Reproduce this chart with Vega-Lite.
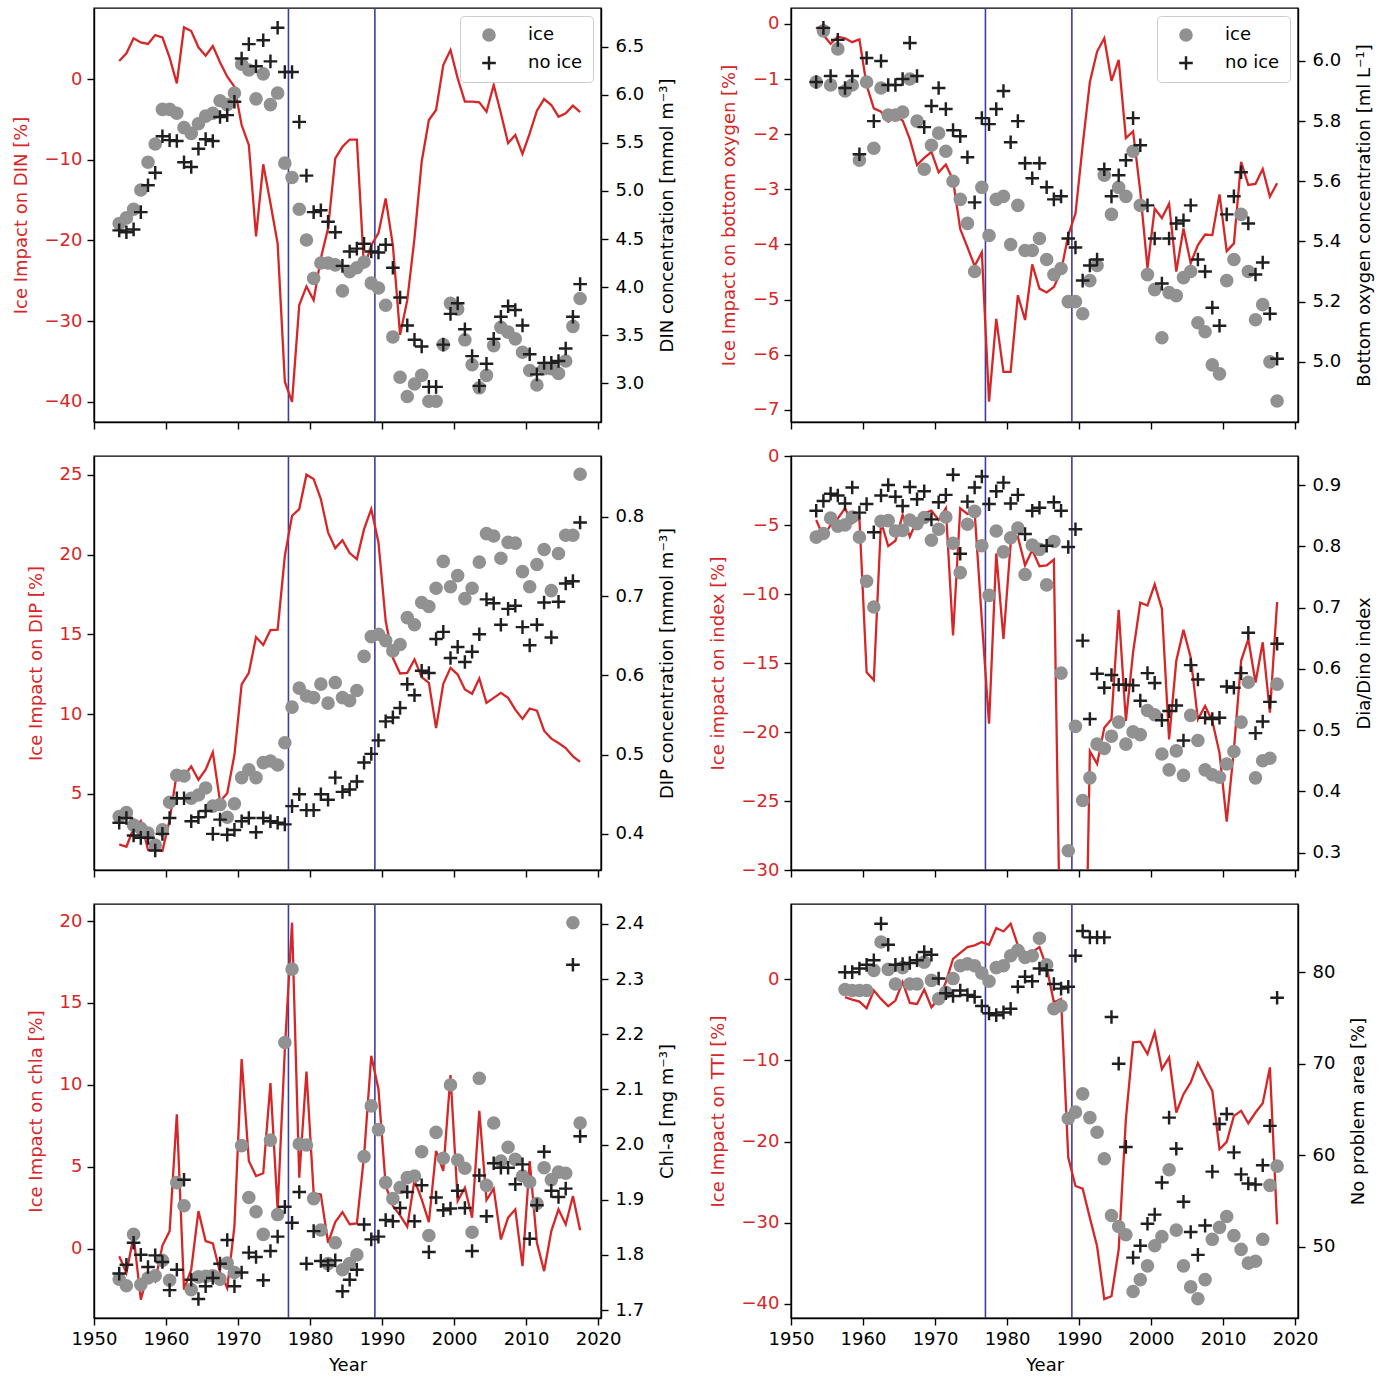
{
  "$schema": "https://vega.github.io/schema/vega-lite/v6.json",
  "background": "white",
  "padding": {"left": 11, "top": 6, "right": 5, "bottom": 5},
  "config": {
    "font": "DejaVu Sans",
    "view": {"stroke": "black", "strokeWidth": 1.4},
    "axis": {"grid": false, "labelFont": "DejaVu Sans", "titleFont": "DejaVu Sans", "labelFontSize": 18, "titleFontSize": 18, "titleFontWeight": "normal", "labelColor": "black", "titleColor": "black", "tickColor": "black", "domainColor": "black", "tickSize": 7, "tickWidth": 1.4, "domainWidth": 1.4, "labelPadding": 5, "titlePadding": 8, "labelFlush": false, "labelOverlap": false, "labelBound": false}
  },
  "datasets": {
    "p1": [
      {"year":1953.5,"impact":2.23,"ice":4.66,"no_ice":4.59},{"year":1954.5,"impact":3.18,"ice":4.72,"no_ice":4.57},{"year":1955.5,"impact":5.04,"ice":4.81,"no_ice":4.60},{"year":1956.5,"impact":4.54,"ice":5.01,"no_ice":4.78},{"year":1957.5,"impact":4.34,"ice":5.30,"no_ice":5.06},{"year":1958.5,"impact":5.45,"ice":5.49,"no_ice":5.19},{"year":1959.5,"impact":5.16,"ice":5.85,"no_ice":5.57},{"year":1960.5,"impact":2.64,"ice":5.85,"no_ice":5.53},{"year":1961.5,"impact":-0.54,"ice":5.81,"no_ice":5.52},{"year":1962.5,"impact":6.4,"ice":5.66,"no_ice":5.30},
      {"year":1963.5,"impact":5.95,"ice":5.60,"no_ice":5.25},{"year":1964.5,"impact":3.93,"ice":5.70,"no_ice":5.44},{"year":1965.5,"impact":2.89,"ice":5.78,"no_ice":5.54},{"year":1966.5,"impact":4.09,"ice":5.81,"no_ice":5.52},{"year":1967.5,"impact":2.07,"ice":5.94,"no_ice":5.77},{"year":1968.5,"impact":0.29,"ice":5.90,"no_ice":5.79},{"year":1969.5,"impact":-0.95,"ice":6.02,"no_ice":5.93},{"year":1970.5,"impact":-5.7,"ice":6.32,"no_ice":6.38},{"year":1971.5,"impact":-8.18,"ice":6.26,"no_ice":6.53},{"year":1972.5,"impact":-19.5,"ice":5.96,"no_ice":6.30},
      {"year":1973.5,"impact":-10.57,"ice":6.22,"no_ice":6.57},{"year":1974.5,"impact":-15.4,"ice":5.90,"no_ice":6.35},{"year":1975.5,"impact":-20.4,"ice":6.02,"no_ice":6.70},{"year":1976.5,"impact":-37.5,"ice":5.29,"no_ice":6.24},{"year":1977.5,"impact":-40.0,"ice":5.14,"no_ice":6.24},{"year":1978.5,"impact":-28.0,"ice":4.81,"no_ice":5.72},{"year":1979.5,"impact":-25.7,"ice":4.49,"no_ice":5.16},{"year":1980.5,"impact":-27.4,"ice":4.09,"no_ice":4.78},{"year":1981.5,"impact":-22.2,"ice":4.25,"no_ice":4.80},{"year":1982.5,"impact":-18.5,"ice":4.25,"no_ice":4.68},
      {"year":1983.5,"impact":-9.83,"ice":4.23,"no_ice":4.57},{"year":1984.5,"impact":-8.4,"ice":3.96,"no_ice":4.22},{"year":1985.5,"impact":-7.5,"ice":4.16,"no_ice":4.37},{"year":1986.5,"impact":-7.5,"ice":4.20,"no_ice":4.40},{"year":1987.5,"impact":-23.45,"ice":4.26,"no_ice":4.45},{"year":1988.5,"impact":-20.6,"ice":4.04,"no_ice":4.37},{"year":1989.5,"impact":-19.1,"ice":3.99,"no_ice":4.36},{"year":1990.5,"impact":-14.8,"ice":3.81,"no_ice":4.44},{"year":1991.5,"impact":-20.6,"ice":3.48,"no_ice":4.20},{"year":1992.5,"impact":-31.7,"ice":3.06,"no_ice":3.89},
      {"year":1993.5,"impact":-27.4,"ice":2.86,"no_ice":3.60},{"year":1994.5,"impact":-19.74,"ice":2.99,"no_ice":3.45},{"year":1995.5,"impact":-10.25,"ice":3.08,"no_ice":3.38},{"year":1996.5,"impact":-5.08,"ice":2.81,"no_ice":2.96},{"year":1997.5,"impact":-3.84,"ice":2.81,"no_ice":2.96},{"year":1998.5,"impact":1.73,"ice":3.40,"no_ice":3.40},{"year":1999.5,"impact":3.59,"ice":3.83,"no_ice":3.72},{"year":2000.5,"impact":0.08,"ice":3.77,"no_ice":3.83},{"year":2001.5,"impact":-2.81,"ice":3.45,"no_ice":3.56},{"year":2002.5,"impact":-2.81,"ice":3.19,"no_ice":3.28},
      {"year":2003.5,"impact":-2.89,"ice":2.95,"no_ice":2.97},{"year":2004.5,"impact":-4.05,"ice":3.08,"no_ice":3.20},{"year":2005.5,"impact":-0.74,"ice":3.39,"no_ice":3.46},{"year":2006.5,"impact":-4.25,"ice":3.58,"no_ice":3.69},{"year":2007.5,"impact":-7.95,"ice":3.53,"no_ice":3.80},{"year":2008.5,"impact":-6.94,"ice":3.46,"no_ice":3.76},{"year":2009.5,"impact":-9.29,"ice":3.32,"no_ice":3.60},{"year":2010.5,"impact":-6.73,"ice":3.13,"no_ice":3.30},{"year":2011.5,"impact":-3.93,"ice":2.98,"no_ice":3.09},{"year":2012.5,"impact":-2.48,"ice":3.15,"no_ice":3.21},
      {"year":2013.5,"impact":-3.22,"ice":3.15,"no_ice":3.21},{"year":2014.5,"impact":-4.67,"ice":3.10,"no_ice":3.23},{"year":2015.5,"impact":-4.25,"ice":3.23,"no_ice":3.36},{"year":2016.5,"impact":-3.3,"ice":3.59,"no_ice":3.69},{"year":2017.5,"impact":-4.1,"ice":3.88,"no_ice":4.03}
    ],
    "p2": [
      {"year":1953.5,"impact":-0.06,"ice":5.93,"no_ice":5.93},{"year":1954.5,"impact":-0.2,"ice":6.10,"no_ice":6.11},{"year":1955.5,"impact":-0.36,"ice":5.92,"no_ice":5.95},{"year":1956.5,"impact":-0.23,"ice":6.04,"no_ice":6.07},{"year":1957.5,"impact":-0.26,"ice":5.90,"no_ice":5.91},{"year":1958.5,"impact":-0.33,"ice":5.92,"no_ice":5.95},{"year":1959.5,"impact":-0.28,"ice":5.67,"no_ice":5.69},{"year":1960.5,"impact":-1.11,"ice":5.93,"no_ice":6.01},{"year":1961.5,"impact":-1.53,"ice":5.71,"no_ice":5.80},{"year":1962.5,"impact":-1.59,"ice":5.91,"no_ice":6.00},
      {"year":1963.5,"impact":-1.77,"ice":5.82,"no_ice":5.92},{"year":1964.5,"impact":-1.68,"ice":5.82,"no_ice":5.92},{"year":1965.5,"impact":-1.75,"ice":5.83,"no_ice":5.94},{"year":1966.5,"impact":-2.09,"ice":5.94,"no_ice":6.06},{"year":1967.5,"impact":-2.56,"ice":5.80,"no_ice":5.95},{"year":1968.5,"impact":-2.43,"ice":5.64,"no_ice":5.78},{"year":1969.5,"impact":-2.32,"ice":5.72,"no_ice":5.85},{"year":1970.5,"impact":-2.69,"ice":5.76,"no_ice":5.91},{"year":1971.5,"impact":-2.55,"ice":5.70,"no_ice":5.84},{"year":1972.5,"impact":-2.83,"ice":5.60,"no_ice":5.77},
      {"year":1973.5,"impact":-3.72,"ice":5.54,"no_ice":5.75},{"year":1974.5,"impact":-4.05,"ice":5.46,"no_ice":5.68},{"year":1975.5,"impact":-4.39,"ice":5.30,"no_ice":5.53},{"year":1976.5,"impact":-4.14,"ice":5.58,"no_ice":5.81},{"year":1977.5,"impact":-6.85,"ice":5.42,"no_ice":5.79},{"year":1978.5,"impact":-5.35,"ice":5.54,"no_ice":5.84},{"year":1979.5,"impact":-6.31,"ice":5.55,"no_ice":5.90},{"year":1980.5,"impact":-6.31,"ice":5.39,"no_ice":5.73},{"year":1981.5,"impact":-4.92,"ice":5.52,"no_ice":5.80},{"year":1982.5,"impact":-5.37,"ice":5.37,"no_ice":5.66},
      {"year":1983.5,"impact":-4.36,"ice":5.37,"no_ice":5.61},{"year":1984.5,"impact":-4.8,"ice":5.41,"no_ice":5.66},{"year":1985.5,"impact":-4.87,"ice":5.34,"no_ice":5.58},{"year":1986.5,"impact":-4.77,"ice":5.29,"no_ice":5.54},{"year":1987.5,"impact":-4.49,"ice":5.31,"no_ice":5.55},{"year":1988.5,"impact":-3.83,"ice":5.20,"no_ice":5.41},{"year":1989.5,"impact":-3.44,"ice":5.20,"no_ice":5.38},{"year":1990.5,"impact":-2.2,"ice":5.16,"no_ice":5.27},{"year":1991.5,"impact":-1.05,"ice":5.27,"no_ice":5.32},{"year":1992.5,"impact":-0.5,"ice":5.32,"no_ice":5.34},
      {"year":1993.5,"impact":-0.26,"ice":5.62,"no_ice":5.64},{"year":1994.5,"impact":-1.03,"ice":5.49,"no_ice":5.55},{"year":1995.5,"impact":-0.65,"ice":5.58,"no_ice":5.62},{"year":1996.5,"impact":-2.07,"ice":5.55,"no_ice":5.67},{"year":1997.5,"impact":-1.95,"ice":5.70,"no_ice":5.81},{"year":1998.5,"impact":-3.04,"ice":5.52,"no_ice":5.72},{"year":1999.5,"impact":-4.43,"ice":5.29,"no_ice":5.52},{"year":2000.5,"impact":-3.35,"ice":5.24,"no_ice":5.41},{"year":2001.5,"impact":-3.52,"ice":5.08,"no_ice":5.26},{"year":2002.5,"impact":-3.26,"ice":5.23,"no_ice":5.41},
      {"year":2003.5,"impact":-4.49,"ice":5.22,"no_ice":5.46},{"year":2004.5,"impact":-3.71,"ice":5.28,"no_ice":5.47},{"year":2005.5,"impact":-4.34,"ice":5.30,"no_ice":5.52},{"year":2006.5,"impact":-4.01,"ice":5.13,"no_ice":5.34},{"year":2007.5,"impact":-3.82,"ice":5.10,"no_ice":5.30},{"year":2008.5,"impact":-3.83,"ice":4.99,"no_ice":5.18},{"year":2009.5,"impact":-3.09,"ice":4.96,"no_ice":5.12},{"year":2010.5,"impact":-4.12,"ice":5.27,"no_ice":5.49},{"year":2011.5,"impact":-3.98,"ice":5.34,"no_ice":5.55},{"year":2012.5,"impact":-2.5,"ice":5.49,"no_ice":5.63},
      {"year":2013.5,"impact":-2.92,"ice":5.30,"no_ice":5.46},{"year":2014.5,"impact":-2.90,"ice":5.14,"no_ice":5.29},{"year":2015.5,"impact":-2.63,"ice":5.19,"no_ice":5.33},{"year":2016.5,"impact":-3.13,"ice":5.00,"no_ice":5.16},{"year":2017.5,"impact":-2.89,"ice":4.87,"no_ice":5.01}
    ],
    "p3": [
      {"year":1953.5,"impact":1.83,"ice":0.422,"no_ice":0.414},{"year":1954.5,"impact":1.68,"ice":0.427,"no_ice":0.42},{"year":1955.5,"impact":2.84,"ice":0.411,"no_ice":0.398},{"year":1956.5,"impact":3.30,"ice":0.407,"no_ice":0.395},{"year":1957.5,"impact":1.48,"ice":0.401,"no_ice":0.395},{"year":1958.5,"impact":1.48,"ice":0.386,"no_ice":0.379},{"year":1959.5,"impact":1.42,"ice":0.405,"no_ice":0.40},{"year":1960.5,"impact":3.36,"ice":0.44,"no_ice":0.42},{"year":1961.5,"impact":6.30,"ice":0.474,"no_ice":0.445},{"year":1962.5,"impact":6.09,"ice":0.473,"no_ice":0.445},
      {"year":1963.5,"impact":6.72,"ice":0.445,"no_ice":0.416},{"year":1964.5,"impact":5.88,"ice":0.449,"no_ice":0.421},{"year":1965.5,"impact":6.51,"ice":0.458,"no_ice":0.429},{"year":1966.5,"impact":7.60,"ice":0.435,"no_ice":0.40},{"year":1967.5,"impact":4.52,"ice":0.437,"no_ice":0.418},{"year":1968.5,"impact":5.04,"ice":0.421,"no_ice":0.399},{"year":1969.5,"impact":7.45,"ice":0.438,"no_ice":0.405},{"year":1970.5,"impact":11.86,"ice":0.471,"no_ice":0.416},{"year":1971.5,"impact":12.59,"ice":0.481,"no_ice":0.42},{"year":1972.5,"impact":14.83,"ice":0.471,"no_ice":0.402},
      {"year":1973.5,"impact":14.33,"ice":0.49,"no_ice":0.42},{"year":1974.5,"impact":15.27,"ice":0.492,"no_ice":0.416},{"year":1975.5,"impact":15.3,"ice":0.487,"no_ice":0.414},{"year":1976.5,"impact":19.93,"ice":0.515,"no_ice":0.412},{"year":1977.5,"impact":22.44,"ice":0.56,"no_ice":0.435},{"year":1978.5,"impact":22.86,"ice":0.584,"no_ice":0.45},{"year":1979.5,"impact":25.02,"ice":0.574,"no_ice":0.43},{"year":1980.5,"impact":24.75,"ice":0.572,"no_ice":0.43},{"year":1981.5,"impact":23.49,"ice":0.589,"no_ice":0.45},{"year":1982.5,"impact":21.4,"ice":0.565,"no_ice":0.443},
      {"year":1983.5,"impact":20.41,"ice":0.591,"no_ice":0.471},{"year":1984.5,"impact":20.91,"ice":0.572,"no_ice":0.453},{"year":1985.5,"impact":20.1,"ice":0.568,"no_ice":0.456},{"year":1986.5,"impact":19.72,"ice":0.581,"no_ice":0.466},{"year":1987.5,"impact":21.6,"ice":0.624,"no_ice":0.49},{"year":1988.5,"impact":22.86,"ice":0.649,"no_ice":0.501},{"year":1989.5,"impact":20.77,"ice":0.652,"no_ice":0.518},{"year":1990.5,"impact":15.84,"ice":0.644,"no_ice":0.542},{"year":1991.5,"impact":13.53,"ice":0.631,"no_ice":0.547},{"year":1992.5,"impact":12.55,"ice":0.639,"no_ice":0.559},
      {"year":1993.5,"impact":12.59,"ice":0.673,"no_ice":0.589},{"year":1994.5,"impact":13.43,"ice":0.664,"no_ice":0.575},{"year":1995.5,"impact":12.32,"ice":0.692,"no_ice":0.606},{"year":1996.5,"impact":11.96,"ice":0.687,"no_ice":0.603},{"year":1997.5,"impact":9.13,"ice":0.710,"no_ice":0.646},{"year":1998.5,"impact":11.9,"ice":0.744,"no_ice":0.655},{"year":1999.5,"impact":12.9,"ice":0.712,"no_ice":0.622},{"year":2000.5,"impact":12.48,"ice":0.726,"no_ice":0.636},{"year":2001.5,"impact":11.54,"ice":0.697,"no_ice":0.617},{"year":2002.5,"impact":11.27,"ice":0.710,"no_ice":0.63},
      {"year":2003.5,"impact":12.23,"ice":0.743,"no_ice":0.652},{"year":2004.5,"impact":10.7,"ice":0.779,"no_ice":0.696},{"year":2005.5,"impact":11.02,"ice":0.776,"no_ice":0.691},{"year":2006.5,"impact":11.33,"ice":0.748,"no_ice":0.664},{"year":2007.5,"impact":11.02,"ice":0.768,"no_ice":0.684},{"year":2008.5,"impact":10.28,"ice":0.767,"no_ice":0.688},{"year":2009.5,"impact":9.7,"ice":0.731,"no_ice":0.661},{"year":2010.5,"impact":10.35,"ice":0.712,"no_ice":0.638},{"year":2011.5,"impact":10.22,"ice":0.740,"no_ice":0.664},{"year":2012.5,"impact":8.96,"ice":0.759,"no_ice":0.692},
      {"year":2013.5,"impact":8.46,"ice":0.707,"no_ice":0.648},{"year":2014.5,"impact":8.19,"ice":0.754,"no_ice":0.693},{"year":2015.5,"impact":7.87,"ice":0.777,"no_ice":0.716},{"year":2016.5,"impact":7.35,"ice":0.777,"no_ice":0.719},{"year":2017.5,"impact":7.0,"ice":0.854,"no_ice":0.793}
    ],
    "p4": [
      {"year":1953.5,"impact":-4.64,"ice":0.815,"no_ice":0.858},{"year":1954.5,"impact":-5.85,"ice":0.821,"no_ice":0.874},{"year":1955.5,"impact":-5.0,"ice":0.846,"no_ice":0.886},{"year":1956.5,"impact":-4.52,"ice":0.833,"no_ice":0.883},{"year":1957.5,"impact":-3.79,"ice":0.835,"no_ice":0.87},{"year":1958.5,"impact":-4.88,"ice":0.848,"no_ice":0.896},{"year":1959.5,"impact":-4.52,"ice":0.815,"no_ice":0.855},{"year":1960.5,"impact":-15.68,"ice":0.743,"no_ice":0.869},{"year":1961.5,"impact":-16.24,"ice":0.701,"no_ice":0.823},{"year":1962.5,"impact":-4.76,"ice":0.841,"no_ice":0.883},
      {"year":1963.5,"impact":-6.53,"ice":0.842,"no_ice":0.90},{"year":1964.5,"impact":-6.14,"ice":0.825,"no_ice":0.881},{"year":1965.5,"impact":-4.27,"ice":0.826,"no_ice":0.866},{"year":1966.5,"impact":-5.85,"ice":0.843,"no_ice":0.897},{"year":1967.5,"impact":-4.64,"ice":0.837,"no_ice":0.877},{"year":1968.5,"impact":-4.15,"ice":0.847,"no_ice":0.89},{"year":1969.5,"impact":-3.96,"ice":0.81,"no_ice":0.844},{"year":1970.5,"impact":-4.64,"ice":0.828,"no_ice":0.872},{"year":1971.5,"impact":-3.79,"ice":0.848,"no_ice":0.884},{"year":1972.5,"impact":-13.01,"ice":0.805,"no_ice":0.917},
      {"year":1973.5,"impact":-3.79,"ice":0.757,"no_ice":0.788},{"year":1974.5,"impact":-4.2,"ice":0.836,"no_ice":0.873},{"year":1975.5,"impact":-4.03,"ice":0.857,"no_ice":0.896},{"year":1976.5,"impact":-11.92,"ice":0.801,"no_ice":0.914},{"year":1977.5,"impact":-19.4,"ice":0.72,"no_ice":0.869},{"year":1978.5,"impact":-7.06,"ice":0.825,"no_ice":0.89},{"year":1979.5,"impact":-13.26,"ice":0.791,"no_ice":0.904},{"year":1980.5,"impact":-6.34,"ice":0.814,"no_ice":0.87},{"year":1981.5,"impact":-5.85,"ice":0.83,"no_ice":0.884},{"year":1982.5,"impact":-7.92,"ice":0.754,"no_ice":0.82},
      {"year":1983.5,"impact":-6.82,"ice":0.802,"no_ice":0.858},{"year":1984.5,"impact":-7.99,"ice":0.795,"no_ice":0.863},{"year":1985.5,"impact":-7.92,"ice":0.737,"no_ice":0.801},{"year":1986.5,"impact":-7.5,"ice":0.808,"no_ice":0.872},{"year":1987.5,"impact":-40,"ice":0.593,"no_ice":0.858},{"year":1988.5,"impact":-45,"ice":0.303,"no_ice":0.799},{"year":1989.5,"impact":-48,"ice":0.506,"no_ice":0.828},{"year":1990.5,"impact":-50,"ice":0.385,"no_ice":0.646},{"year":1991.5,"impact":-21.39,"ice":0.422,"no_ice":0.518},{"year":1992.5,"impact":-22.31,"ice":0.477,"no_ice":0.592},
      {"year":1993.5,"impact":-19.69,"ice":0.47,"no_ice":0.569},{"year":1994.5,"impact":-19.08,"ice":0.49,"no_ice":0.59},{"year":1995.5,"impact":-11.14,"ice":0.513,"no_ice":0.574},{"year":1996.5,"impact":-19.2,"ice":0.477,"no_ice":0.574},{"year":1997.5,"impact":-14.23,"ice":0.497,"no_ice":0.573},{"year":1998.5,"impact":-10.63,"ice":0.4925,"no_ice":0.548},{"year":1999.5,"impact":-10.83,"ice":0.532,"no_ice":0.593},{"year":2000.5,"impact":-9.30,"ice":0.525,"no_ice":0.577},{"year":2001.5,"impact":-11.07,"ice":0.461,"no_ice":0.516},{"year":2002.5,"impact":-20.54,"ice":0.435,"no_ice":0.531},
      {"year":2003.5,"impact":-14.84,"ice":0.466,"no_ice":0.54},{"year":2004.5,"impact":-12.6,"ice":0.426,"no_ice":0.483},{"year":2005.5,"impact":-14.59,"ice":0.524,"no_ice":0.606},{"year":2006.5,"impact":-19.08,"ice":0.483,"no_ice":0.5825},{"year":2007.5,"impact":-18.11,"ice":0.435,"no_ice":0.52},{"year":2008.5,"impact":-19.2,"ice":0.427,"no_ice":0.518},{"year":2009.5,"impact":-21.51,"ice":0.423,"no_ice":0.52},{"year":2010.5,"impact":-26.49,"ice":0.4445,"no_ice":0.571},{"year":2011.5,"impact":-21.27,"ice":0.465,"no_ice":0.569},{"year":2012.5,"impact":-14.84,"ice":0.513,"no_ice":0.593},
      {"year":2013.5,"impact":-13.26,"ice":0.578,"no_ice":0.659},{"year":2014.5,"impact":-16.41,"ice":0.422,"no_ice":0.495},{"year":2015.5,"impact":-13.5,"ice":0.45,"no_ice":0.514},{"year":2016.5,"impact":-18.6,"ice":0.454,"no_ice":0.546},{"year":2017.5,"impact":-10.58,"ice":0.575,"no_ice":0.641}
    ],
    "p5": [
      {"year":1953.5,"impact":-0.45,"ice":1.756,"no_ice":1.766},{"year":1954.5,"impact":-1.47,"ice":1.744,"no_ice":1.782},{"year":1955.5,"impact":0.78,"ice":1.837,"no_ice":1.822},{"year":1956.5,"impact":-3.1,"ice":1.746,"no_ice":1.80},{"year":1957.5,"impact":-1.47,"ice":1.758,"no_ice":1.778},{"year":1958.5,"impact":-1.98,"ice":1.762,"no_ice":1.799},{"year":1959.5,"impact":0.2,"ice":1.79,"no_ice":1.787},{"year":1960.5,"impact":1.08,"ice":1.754,"no_ice":1.736},{"year":1961.5,"impact":8.21,"ice":1.931,"no_ice":1.773},{"year":1962.5,"impact":-2.49,"ice":1.889,"no_ice":1.936},
      {"year":1963.5,"impact":-1.26,"ice":1.737,"no_ice":1.755},{"year":1964.5,"impact":2.3,"ice":1.76,"no_ice":1.72},{"year":1965.5,"impact":0.47,"ice":1.761,"no_ice":1.743},{"year":1966.5,"impact":0.33,"ice":1.762,"no_ice":1.758},{"year":1967.5,"impact":-1.43,"ice":1.756,"no_ice":1.784},{"year":1968.5,"impact":-2.39,"ice":1.785,"no_ice":1.827},{"year":1969.5,"impact":1.39,"ice":1.768,"no_ice":1.743},{"year":1970.5,"impact":11.58,"ice":1.998,"no_ice":1.768},{"year":1971.5,"impact":5.36,"ice":1.904,"no_ice":1.804},{"year":1972.5,"impact":4.44,"ice":1.878,"no_ice":1.796},
      {"year":1973.5,"impact":4.61,"ice":1.837,"no_ice":1.754},{"year":1974.5,"impact":10.11,"ice":2.008,"no_ice":1.807},{"year":1975.5,"impact":2.41,"ice":1.873,"no_ice":1.833},{"year":1976.5,"impact":12.19,"ice":2.185,"no_ice":1.887},{"year":1977.5,"impact":19.9,"ice":2.318,"no_ice":1.858},{"year":1978.5,"impact":4.34,"ice":2.001,"no_ice":1.914},{"year":1979.5,"impact":10.81,"ice":1.999,"no_ice":1.784},{"year":1980.5,"impact":3.38,"ice":1.902,"no_ice":1.843},{"year":1981.5,"impact":3.32,"ice":1.845,"no_ice":1.789},{"year":1982.5,"impact":0.37,"ice":1.784,"no_ice":1.781},
      {"year":1983.5,"impact":1.63,"ice":1.822,"no_ice":1.79},{"year":1984.5,"impact":2.24,"ice":1.773,"no_ice":1.734},{"year":1985.5,"impact":1.5,"ice":1.784,"no_ice":1.755},{"year":1986.5,"impact":1.55,"ice":1.80,"no_ice":1.773},{"year":1987.5,"impact":5.67,"ice":1.978,"no_ice":1.855},{"year":1988.5,"impact":11.78,"ice":2.07,"no_ice":1.828},{"year":1989.5,"impact":9.74,"ice":2.027,"no_ice":1.833},{"year":1990.5,"impact":3.87,"ice":1.931,"no_ice":1.863},{"year":1991.5,"impact":2.61,"ice":1.902,"no_ice":1.861},{"year":1992.5,"impact":2.04,"ice":1.922,"no_ice":1.885},
      {"year":1993.5,"impact":1.35,"ice":1.94,"no_ice":1.914},{"year":1994.5,"impact":4.2,"ice":1.943,"no_ice":1.861},{"year":1995.5,"impact":3.02,"ice":1.987,"no_ice":1.926},{"year":1996.5,"impact":1.63,"ice":1.835,"no_ice":1.805},{"year":1997.5,"impact":5.98,"ice":2.022,"no_ice":1.904},{"year":1998.5,"impact":4.75,"ice":1.975,"no_ice":1.881},{"year":1999.5,"impact":10.6,"ice":2.108,"no_ice":1.884},{"year":2000.5,"impact":2.92,"ice":1.972,"no_ice":1.916},{"year":2001.5,"impact":3.73,"ice":1.957,"no_ice":1.885},{"year":2002.5,"impact":1.9,"ice":1.841,"no_ice":1.807},
      {"year":2003.5,"impact":8.42,"ice":2.12,"no_ice":1.944},{"year":2004.5,"impact":2.98,"ice":1.926,"no_ice":1.87},{"year":2005.5,"impact":3.67,"ice":2.039,"no_ice":1.966},{"year":2006.5,"impact":0.57,"ice":1.97,"no_ice":1.958},{"year":2007.5,"impact":1.9,"ice":1.995,"no_ice":1.958},{"year":2008.5,"impact":2.41,"ice":1.973,"no_ice":1.928},{"year":2009.5,"impact":-1.06,"ice":1.943,"no_ice":1.964},{"year":2010.5,"impact":5.36,"ice":1.932,"no_ice":1.829},{"year":2011.5,"impact":0.37,"ice":1.893,"no_ice":1.89},{"year":2012.5,"impact":-1.36,"ice":1.958,"no_ice":1.987},
      {"year":2013.5,"impact":1.08,"ice":1.936,"no_ice":1.916},{"year":2014.5,"impact":2.41,"ice":1.95,"no_ice":1.905},{"year":2015.5,"impact":1.49,"ice":1.948,"no_ice":1.92},{"year":2016.5,"impact":3.22,"ice":2.402,"no_ice":2.326},{"year":2017.5,"impact":1.14,"ice":2.039,"no_ice":2.015}
    ],
    "p6": [
      {"year":1957.5,"impact":-2.22,"ice":78.1,"no_ice":80.0},{"year":1958.5,"impact":-2.51,"ice":78.0,"no_ice":80.0},{"year":1959.5,"impact":-2.76,"ice":78.0,"no_ice":80.4},{"year":1960.5,"impact":-3.58,"ice":78.0,"no_ice":80.8},{"year":1961.5,"impact":-1.4,"ice":80.2,"no_ice":81.3},{"year":1962.5,"impact":-2.43,"ice":83.3,"no_ice":85.3},{"year":1963.5,"impact":-3.33,"ice":80.3,"no_ice":83.0},{"year":1964.5,"impact":-2.63,"ice":78.7,"no_ice":80.8},{"year":1965.5,"impact":-0.37,"ice":80.5,"no_ice":80.9},{"year":1966.5,"impact":-2.92,"ice":78.7,"no_ice":81.0},
      {"year":1967.5,"impact":-3.05,"ice":78.7,"no_ice":81.3},{"year":1968.5,"impact":-1.28,"ice":81.1,"no_ice":82.2},{"year":1969.5,"impact":-3.46,"ice":79.1,"no_ice":81.9},{"year":1970.5,"impact":-2.43,"ice":77.1,"no_ice":79.3},{"year":1971.5,"impact":-0.37,"ice":77.8,"no_ice":77.7},{"year":1972.5,"impact":2.51,"ice":79.3,"no_ice":77.4},{"year":1973.5,"impact":3.25,"ice":80.7,"no_ice":78.0},{"year":1974.5,"impact":3.95,"ice":80.9,"no_ice":77.5},{"year":1975.5,"impact":4.16,"ice":80.7,"no_ice":77.3},{"year":1976.5,"impact":4.57,"ice":79.9,"no_ice":76.3},
      {"year":1977.5,"impact":4.24,"ice":79.0,"no_ice":75.5},{"year":1978.5,"impact":6.3,"ice":80.5,"no_ice":75.3},{"year":1979.5,"impact":5.88,"ice":80.7,"no_ice":75.6},{"year":1980.5,"impact":6.83,"ice":81.8,"no_ice":76.0},{"year":1981.5,"impact":4.16,"ice":82.4,"no_ice":78.4},{"year":1982.5,"impact":3.33,"ice":81.6,"no_ice":79.5},{"year":1983.5,"impact":3.33,"ice":81.8,"no_ice":79.0},{"year":1984.5,"impact":3.95,"ice":83.7,"no_ice":80.4},{"year":1985.5,"impact":1.48,"ice":80.8,"no_ice":80.2},{"year":1986.5,"impact":-2.84,"ice":76.0,"no_ice":78.7},
      {"year":1987.5,"impact":-2.43,"ice":76.3,"no_ice":78.2},{"year":1988.5,"impact":-21.98,"ice":64.0,"no_ice":78.4},{"year":1989.5,"impact":-25.47,"ice":64.7,"no_ice":81.8},{"year":1990.5,"impact":-25.8,"ice":66.7,"no_ice":84.5},{"year":1991.5,"impact":-29.4,"ice":64.1,"no_ice":83.8},{"year":1992.5,"impact":-32.9,"ice":62.5,"no_ice":83.8},{"year":1993.5,"impact":-39.4,"ice":59.6,"no_ice":83.8},{"year":1994.5,"impact":-39.05,"ice":53.4,"no_ice":75.1},{"year":1995.5,"impact":-33.3,"ice":52.2,"no_ice":70.0},{"year":1996.5,"impact":-17.24,"ice":51.3,"no_ice":60.9},
      {"year":1997.5,"impact":-7.78,"ice":45.1,"no_ice":48.8},{"year":1998.5,"impact":-7.7,"ice":46.4,"no_ice":50.1},{"year":1999.5,"impact":-9.22,"ice":47.9,"no_ice":52.5},{"year":2000.5,"impact":-6.54,"ice":50.1,"no_ice":53.5},{"year":2001.5,"impact":-11.07,"ice":51.1,"no_ice":57.0},{"year":2002.5,"impact":-9.63,"ice":58.4,"no_ice":64.1},{"year":2003.5,"impact":-16.42,"ice":51.8,"no_ice":60.7},{"year":2004.5,"impact":-14.16,"ice":47.9,"no_ice":54.9},{"year":2005.5,"impact":-12.72,"ice":45.6,"no_ice":51.6},{"year":2006.5,"impact":-10.33,"ice":44.3,"no_ice":49.1},
      {"year":2007.5,"impact":-12.1,"ice":46.4,"no_ice":52.3},{"year":2008.5,"impact":-13.74,"ice":50.8,"no_ice":58.2},{"year":2009.5,"impact":-20.95,"ice":52.1,"no_ice":63.4},{"year":2010.5,"impact":-20.04,"ice":53.3,"no_ice":64.5},{"year":2011.5,"impact":-16.83,"ice":51.2,"no_ice":60.3},{"year":2012.5,"impact":-16.21,"ice":49.7,"no_ice":57.9},{"year":2013.5,"impact":-17.74,"ice":48.2,"no_ice":56.9},{"year":2014.5,"impact":-16.42,"ice":48.4,"no_ice":56.8},{"year":2015.5,"impact":-15.27,"ice":50.8,"no_ice":58.9},{"year":2016.5,"impact":-10.86,"ice":56.7,"no_ice":63.2},
      {"year":2017.5,"impact":-30.2,"ice":58.8,"no_ice":77.2}
    ],
    "shifts": [{"year": 1977}, {"year": 1989}]
  },
  "columns": 2,
  "spacing": {"row": 34, "column": 190},
  "bounds": "flush",
  "resolve": {"scale": {"color": "independent", "shape": "independent"}, "legend": {"color": "independent", "shape": "independent"}},
  "concat": [
    {
      "width": 507, "height": 414,
      "layer": [
        {"data": {"name": "shifts"}, "mark": {"type": "rule", "color": "#3d3d9e", "strokeWidth": 1.6}, "encoding": {"x": {"field": "year", "type": "quantitative", "scale": {"domain": [1950, 2020.4], "nice": false, "zero": false}}}},
        {"data": {"name": "p1"}, "mark": {"type": "line", "color": "#d62728", "strokeWidth": 2.3, "clip": true}, "encoding": {
          "x": {"field": "year", "type": "quantitative", "scale": {"domain": [1950, 2020.4], "nice": false, "zero": false}, "axis": {"values": [1950,1960,1970,1980,1990,2000,2010,2020], "labels": false, "title": null}},
          "y": {"field": "impact", "type": "quantitative", "scale": {"domain": [-42.5, 8.8], "nice": false, "zero": false}, "axis": {"orient": "left", "values": [-40,-30,-20,-10,0], "format": "d", "title": "Ice Impact on DIN [%]", "titleColor": "#d62728", "labelColor": "#d62728", "titlePadding": 14}}}},
        {"data": {"name": "p1"}, "transform": [{"fold": ["ice", "no_ice"], "as": ["kind", "conc"]}], "mark": {"type": "point", "filled": true, "size": 185, "opacity": 1, "strokeWidth": 0}, "encoding": {
          "x": {"field": "year", "type": "quantitative", "scale": {"domain": [1950, 2020.4], "nice": false, "zero": false}},
          "y": {"field": "conc", "type": "quantitative", "scale": {"domain": [2.594, 6.906], "nice": false, "zero": false}, "axis": {"orient": "right", "values": [3,3.5,4,4.5,5,5.5,6,6.5], "format": ".1f", "title": "DIN concentration [mmol m⁻³]", "titleAngle": 270, "titleBaseline": "top", "labelPadding": 7, "titlePadding": 15}},
          "color": {"field": "kind", "type": "nominal", "scale": {"domain": ["ice", "no_ice"], "range": ["#919191", "#1f1f1f"]}, "legend": {"title": null, "orient": "top-right", "offset": 8, "fillColor": "rgba(255,255,255,0.85)", "strokeColor": "#cccccc", "cornerRadius": 4, "padding": 10, "symbolOffset": 10, "labelOffset": 30, "labelFontSize": 18, "labelFont": "DejaVu Sans", "symbolSize": 185, "rowPadding": 10, "labelExpr": "datum.label == 'no_ice' ? 'no ice' : 'ice'"}},
          "shape": {"field": "kind", "type": "nominal", "scale": {"domain": ["ice", "no_ice"], "range": ["circle", "M-1,-0.18H-0.18V-1H0.18V-0.18H1V0.18H0.18V1H-0.18V0.18H-1Z"]}, "legend": {"title": null, "orient": "top-right", "offset": 8, "fillColor": "rgba(255,255,255,0.85)", "strokeColor": "#cccccc", "cornerRadius": 4, "padding": 10, "symbolOffset": 10, "labelOffset": 30, "labelFontSize": 18, "labelFont": "DejaVu Sans", "symbolSize": 185, "rowPadding": 10, "labelExpr": "datum.label == 'no_ice' ? 'no ice' : 'ice'"}},
          "order": {"field": "kind", "type": "nominal"}}}
      ],
      "resolve": {"scale": {"y": "independent"}}
    },
    {
      "width": 507, "height": 414,
      "layer": [
        {"data": {"name": "shifts"}, "mark": {"type": "rule", "color": "#3d3d9e", "strokeWidth": 1.6}, "encoding": {"x": {"field": "year", "type": "quantitative", "scale": {"domain": [1950, 2020.4], "nice": false, "zero": false}}}},
        {"data": {"name": "p2"}, "mark": {"type": "line", "color": "#d62728", "strokeWidth": 2.3, "clip": true}, "encoding": {
          "x": {"field": "year", "type": "quantitative", "scale": {"domain": [1950, 2020.4], "nice": false, "zero": false}, "axis": {"values": [1950,1960,1970,1980,1990,2000,2010,2020], "labels": false, "title": null}},
          "y": {"field": "impact", "type": "quantitative", "scale": {"domain": [-7.22, 0.29], "nice": false, "zero": false}, "axis": {"orient": "left", "values": [-7,-6,-5,-4,-3,-2,-1,0], "format": "d", "title": "Ice Impact on bottom oxygen [%]", "titleColor": "#d62728", "labelColor": "#d62728", "titlePadding": 14}}}},
        {"data": {"name": "p2"}, "transform": [{"fold": ["ice", "no_ice"], "as": ["kind", "conc"]}], "mark": {"type": "point", "filled": true, "size": 185, "opacity": 1, "strokeWidth": 0}, "encoding": {
          "x": {"field": "year", "type": "quantitative", "scale": {"domain": [1950, 2020.4], "nice": false, "zero": false}},
          "y": {"field": "conc", "type": "quantitative", "scale": {"domain": [4.80, 6.176], "nice": false, "zero": false}, "axis": {"orient": "right", "values": [5,5.2,5.4,5.6,5.8,6], "format": ".1f", "title": "Bottom oxygen concentration [ml L⁻¹]", "titleAngle": 270, "titleBaseline": "top", "labelPadding": 7, "titlePadding": 15}},
          "color": {"field": "kind", "type": "nominal", "scale": {"domain": ["ice", "no_ice"], "range": ["#919191", "#1f1f1f"]}, "legend": {"title": null, "orient": "top-right", "offset": 8, "fillColor": "rgba(255,255,255,0.85)", "strokeColor": "#cccccc", "cornerRadius": 4, "padding": 10, "symbolOffset": 10, "labelOffset": 30, "labelFontSize": 18, "labelFont": "DejaVu Sans", "symbolSize": 185, "rowPadding": 10, "labelExpr": "datum.label == 'no_ice' ? 'no ice' : 'ice'"}},
          "shape": {"field": "kind", "type": "nominal", "scale": {"domain": ["ice", "no_ice"], "range": ["circle", "M-1,-0.18H-0.18V-1H0.18V-0.18H1V0.18H0.18V1H-0.18V0.18H-1Z"]}, "legend": {"title": null, "orient": "top-right", "offset": 8, "fillColor": "rgba(255,255,255,0.85)", "strokeColor": "#cccccc", "cornerRadius": 4, "padding": 10, "symbolOffset": 10, "labelOffset": 30, "labelFontSize": 18, "labelFont": "DejaVu Sans", "symbolSize": 185, "rowPadding": 10, "labelExpr": "datum.label == 'no_ice' ? 'no ice' : 'ice'"}},
          "order": {"field": "kind", "type": "nominal"}}}
      ],
      "resolve": {"scale": {"y": "independent"}}
    },
    {
      "width": 507, "height": 414,
      "layer": [
        {"data": {"name": "shifts"}, "mark": {"type": "rule", "color": "#3d3d9e", "strokeWidth": 1.6}, "encoding": {"x": {"field": "year", "type": "quantitative", "scale": {"domain": [1950, 2020.4], "nice": false, "zero": false}}}},
        {"data": {"name": "p3"}, "mark": {"type": "line", "color": "#d62728", "strokeWidth": 2.3, "clip": true}, "encoding": {
          "x": {"field": "year", "type": "quantitative", "scale": {"domain": [1950, 2020.4], "nice": false, "zero": false}, "axis": {"values": [1950,1960,1970,1980,1990,2000,2010,2020], "labels": false, "title": null}},
          "y": {"field": "impact", "type": "quantitative", "scale": {"domain": [0.22, 26.19], "nice": false, "zero": false}, "axis": {"orient": "left", "values": [5,10,15,20,25], "format": "d", "title": "Ice Impact on DIP [%]", "titleColor": "#d62728", "labelColor": "#d62728", "titlePadding": 14}}}},
        {"data": {"name": "p3"}, "transform": [{"fold": ["ice", "no_ice"], "as": ["kind", "conc"]}], "mark": {"type": "point", "filled": true, "size": 185, "opacity": 1, "strokeWidth": 0}, "encoding": {
          "x": {"field": "year", "type": "quantitative", "scale": {"domain": [1950, 2020.4], "nice": false, "zero": false}},
          "y": {"field": "conc", "type": "quantitative", "scale": {"domain": [0.3544, 0.877], "nice": false, "zero": false}, "axis": {"orient": "right", "values": [0.4,0.5,0.6,0.7,0.8], "format": ".1f", "title": "DIP concentration [mmol m⁻³]", "titleAngle": 270, "titleBaseline": "top", "labelPadding": 7, "titlePadding": 15}},
          "color": {"field": "kind", "type": "nominal", "scale": {"domain": ["ice", "no_ice"], "range": ["#919191", "#1f1f1f"]}, "legend": null},
          "shape": {"field": "kind", "type": "nominal", "scale": {"domain": ["ice", "no_ice"], "range": ["circle", "M-1,-0.18H-0.18V-1H0.18V-0.18H1V0.18H0.18V1H-0.18V0.18H-1Z"]}, "legend": null},
          "order": {"field": "kind", "type": "nominal"}}}
      ],
      "resolve": {"scale": {"y": "independent"}}
    },
    {
      "width": 507, "height": 414,
      "layer": [
        {"data": {"name": "shifts"}, "mark": {"type": "rule", "color": "#3d3d9e", "strokeWidth": 1.6}, "encoding": {"x": {"field": "year", "type": "quantitative", "scale": {"domain": [1950, 2020.4], "nice": false, "zero": false}}}},
        {"data": {"name": "p4"}, "mark": {"type": "line", "color": "#d62728", "strokeWidth": 2.3, "clip": true}, "encoding": {
          "x": {"field": "year", "type": "quantitative", "scale": {"domain": [1950, 2020.4], "nice": false, "zero": false}, "axis": {"values": [1950,1960,1970,1980,1990,2000,2010,2020], "labels": false, "title": null}},
          "y": {"field": "impact", "type": "quantitative", "scale": {"domain": [-30, 0], "nice": false, "zero": false}, "axis": {"orient": "left", "values": [-30,-25,-20,-15,-10,-5,0], "format": "d", "title": "Ice impact on index [%]", "titleColor": "#d62728", "labelColor": "#d62728", "titlePadding": 14}}}},
        {"data": {"name": "p4"}, "transform": [{"fold": ["ice", "no_ice"], "as": ["kind", "conc"]}], "mark": {"type": "point", "filled": true, "size": 185, "opacity": 1, "strokeWidth": 0}, "encoding": {
          "x": {"field": "year", "type": "quantitative", "scale": {"domain": [1950, 2020.4], "nice": false, "zero": false}},
          "y": {"field": "conc", "type": "quantitative", "scale": {"domain": [0.2715, 0.9475], "nice": false, "zero": false}, "axis": {"orient": "right", "values": [0.3,0.4,0.5,0.6,0.7,0.8,0.9], "format": ".1f", "title": "Dia/Dino index", "titleAngle": 270, "titleBaseline": "top", "labelPadding": 7, "titlePadding": 15}},
          "color": {"field": "kind", "type": "nominal", "scale": {"domain": ["ice", "no_ice"], "range": ["#919191", "#1f1f1f"]}, "legend": null},
          "shape": {"field": "kind", "type": "nominal", "scale": {"domain": ["ice", "no_ice"], "range": ["circle", "M-1,-0.18H-0.18V-1H0.18V-0.18H1V0.18H0.18V1H-0.18V0.18H-1Z"]}, "legend": null},
          "order": {"field": "kind", "type": "nominal"}}}
      ],
      "resolve": {"scale": {"y": "independent"}}
    },
    {
      "width": 507, "height": 414,
      "layer": [
        {"data": {"name": "shifts"}, "mark": {"type": "rule", "color": "#3d3d9e", "strokeWidth": 1.6}, "encoding": {"x": {"field": "year", "type": "quantitative", "scale": {"domain": [1950, 2020.4], "nice": false, "zero": false}}}},
        {"data": {"name": "p5"}, "mark": {"type": "line", "color": "#d62728", "strokeWidth": 2.3, "clip": true}, "encoding": {
          "x": {"field": "year", "type": "quantitative", "scale": {"domain": [1950, 2020.4], "nice": false, "zero": false}, "axis": {"values": [1950,1960,1970,1980,1990,2000,2010,2020], "format": "d", "title": "Year"}},
          "y": {"field": "impact", "type": "quantitative", "scale": {"domain": [-4.22, 21.04], "nice": false, "zero": false}, "axis": {"orient": "left", "values": [0,5,10,15,20], "format": "d", "title": "Ice Impact on chla [%]", "titleColor": "#d62728", "labelColor": "#d62728", "titlePadding": 14}}}},
        {"data": {"name": "p5"}, "transform": [{"fold": ["ice", "no_ice"], "as": ["kind", "conc"]}], "mark": {"type": "point", "filled": true, "size": 185, "opacity": 1, "strokeWidth": 0}, "encoding": {
          "x": {"field": "year", "type": "quantitative", "scale": {"domain": [1950, 2020.4], "nice": false, "zero": false}},
          "y": {"field": "conc", "type": "quantitative", "scale": {"domain": [1.6855, 2.436], "nice": false, "zero": false}, "axis": {"orient": "right", "values": [1.7,1.8,1.9,2.0,2.1,2.2,2.3,2.4], "format": ".1f", "title": "Chl-a [mg m⁻³]", "titleAngle": 270, "titleBaseline": "top", "labelPadding": 7, "titlePadding": 15}},
          "color": {"field": "kind", "type": "nominal", "scale": {"domain": ["ice", "no_ice"], "range": ["#919191", "#1f1f1f"]}, "legend": null},
          "shape": {"field": "kind", "type": "nominal", "scale": {"domain": ["ice", "no_ice"], "range": ["circle", "M-1,-0.18H-0.18V-1H0.18V-0.18H1V0.18H0.18V1H-0.18V0.18H-1Z"]}, "legend": null},
          "order": {"field": "kind", "type": "nominal"}}}
      ],
      "resolve": {"scale": {"y": "independent"}}
    },
    {
      "width": 507, "height": 414,
      "layer": [
        {"data": {"name": "shifts"}, "mark": {"type": "rule", "color": "#3d3d9e", "strokeWidth": 1.6}, "encoding": {"x": {"field": "year", "type": "quantitative", "scale": {"domain": [1950, 2020.4], "nice": false, "zero": false}}}},
        {"data": {"name": "p6"}, "mark": {"type": "line", "color": "#d62728", "strokeWidth": 2.3, "clip": true}, "encoding": {
          "x": {"field": "year", "type": "quantitative", "scale": {"domain": [1950, 2020.4], "nice": false, "zero": false}, "axis": {"values": [1950,1960,1970,1980,1990,2000,2010,2020], "format": "d", "title": "Year"}},
          "y": {"field": "impact", "type": "quantitative", "scale": {"domain": [-41.73, 9.26], "nice": false, "zero": false}, "axis": {"orient": "left", "values": [-40,-30,-20,-10,0], "format": "d", "title": "Ice Impact on TTI [%]", "titleColor": "#d62728", "labelColor": "#d62728", "titlePadding": 14}}}},
        {"data": {"name": "p6"}, "transform": [{"fold": ["ice", "no_ice"], "as": ["kind", "conc"]}], "mark": {"type": "point", "filled": true, "size": 185, "opacity": 1, "strokeWidth": 0}, "encoding": {
          "x": {"field": "year", "type": "quantitative", "scale": {"domain": [1950, 2020.4], "nice": false, "zero": false}},
          "y": {"field": "conc", "type": "quantitative", "scale": {"domain": [42.2, 87.45], "nice": false, "zero": false}, "axis": {"orient": "right", "values": [50,60,70,80], "format": "d", "title": "No problem area [%]", "titleAngle": 270, "titleBaseline": "top", "labelPadding": 7, "titlePadding": 15}},
          "color": {"field": "kind", "type": "nominal", "scale": {"domain": ["ice", "no_ice"], "range": ["#919191", "#1f1f1f"]}, "legend": null},
          "shape": {"field": "kind", "type": "nominal", "scale": {"domain": ["ice", "no_ice"], "range": ["circle", "M-1,-0.18H-0.18V-1H0.18V-0.18H1V0.18H0.18V1H-0.18V0.18H-1Z"]}, "legend": null},
          "order": {"field": "kind", "type": "nominal"}}}
      ],
      "resolve": {"scale": {"y": "independent"}}
    }
  ]
}
